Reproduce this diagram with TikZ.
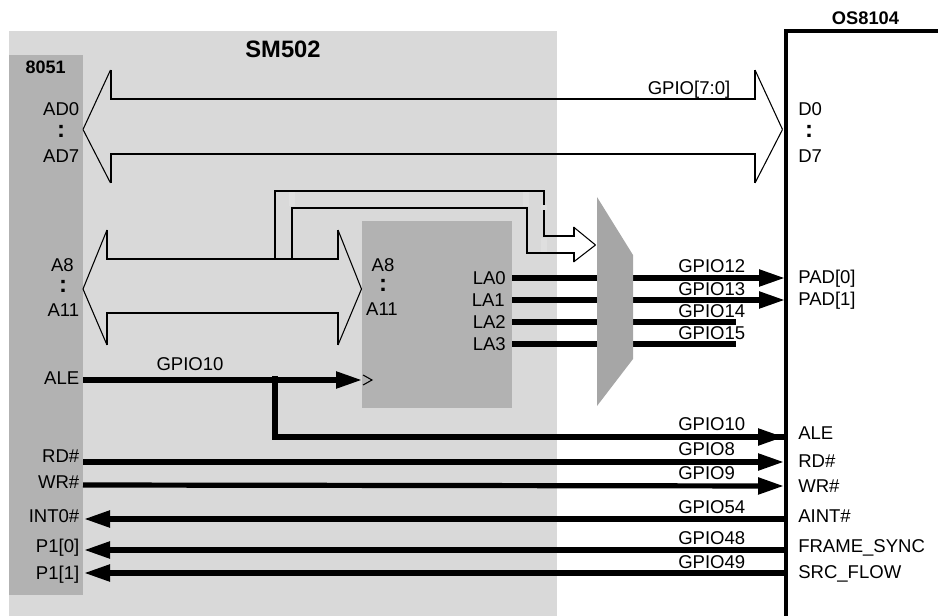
\documentclass[tikz,border=0pt]{standalone}
\usepackage{fontspec}
\setmainfont{Liberation Sans}
\usepackage{tkz-euclide}
\usetikzlibrary{arrows.meta,calc}
\definecolor{BlockClr}{HTML}{D9D9D9}
\definecolor{ChipClr}{HTML}{B2B2B2}
\definecolor{MuxClr}{HTML}{A6A6A6}
\definecolor{PatchClr}{HTML}{DFDFDF}
\tikzset{
  sigline/.style={line width=3.9pt,color=black,line cap=butt},
  sigarrow/.style={sigline,-{Triangle[length=19.5pt,width=12pt]}},
  busline/.style={line width=1.5pt,color=black,line join=miter,line cap=butt},
  busedge/.style={line width=.8pt,color=black,line cap=butt},
  txt/.style={inner sep=0pt,text height=10pt,text depth=0pt,font=\fontsize{13.9}{14}\selectfont},
  txtl/.style={txt,anchor=west},
  txtr/.style={txt,anchor=east},
  dots/.style={txt,text height=9.3pt,font=\fontsize{18}{18}\selectfont\bfseries},
}

\begin{document}
\begin{tikzpicture}[x=.75pt,y=-.75pt]
\useasboundingbox (0,0) rectangle (938,616);

\fill[BlockClr] (9,31) rectangle (557,616);
\fill[ChipClr] (9,55) rectangle (83,595);
\fill[ChipClr] (362,221) rectangle (512,408);

\tkzDefPoints{83/129.5/Ba,110.5/70/Bb,110.5/99.5/Bc,755/99.5/Bd,755/70/Be,782.5/129.5/Bf,755/183/Bg,755/154/Bh,110.5/154/Bi,110.5/183/Bj}
\tkzDefPoints{83/289/Ca,107/230/Cb,107/259.5/Cc,338/259.5/Cd,338/230/Ce,361.5/289/Cf,338/345/Cg,338/313/Ch,107/313/Ci,107/345/Cj}
\tkzDefPoints{275/259.5/Da,275/191/Db,544/191/Dc,544/236/Dd,573.5/236/De,573.5/227/Df,595.5/245/Dg,573.5/262/Dh,573.5/253/Di,526.5/253/Dj,526.5/208/Dk,292/208/Dl,292/259.5/Dm}

% hollow buses
\tkzDrawPolySeg[busline](Bb,Bc,Bd,Be)
\tkzDrawPolySeg[busline](Bg,Bh,Bi,Bj)
\tkzDrawSegments[busedge](Ba,Bb Ba,Bj Bf,Be Bf,Bg)
\tkzDrawPolySeg[busline](Cb,Cc,Cd,Ce)
\tkzDrawPolySeg[busline](Cg,Ch,Ci,Cj)
\tkzDrawSegments[busedge](Ca,Cb Ca,Cj Cf,Ce Cf,Cg)
\tkzDrawPolySeg[busline](Da,Db,Dc,Dd,De,Df)
\tkzDrawPolySeg[busline](Dh,Di,Dj,Dk,Dl,Dm)
\tkzDrawSegments[busline](Da,Dm)
\tkzDrawSegments[busedge](Df,Dg Dg,Dh)
\fill[PatchClr] (289,192.5) rectangle (295,206);
\fill[PatchClr] (523,192.5) rectangle (529,206);
\fill[PatchClr] (541,205) rectangle (547,210);
\fill[PatchClr] (541,238) rectangle (547,252);

\tkzDefPoints{83/380/Ea,362/380/Eb,275/376/Ec,275/437/Ed,784/437/Ee,512/278/Fa,785/278/Fb,512/300/Ga,785/300/Gb,512/322/Ha,736/322/Hb,512/344/Ia,736/344/Ib}
\tkzDefPoints{83/462/Ja,784/462/Jb,83/485/Ka,784/486/Kb,785/519/La,84/519/Lb,785/550/Ma,84/550/Mb,785/573/Na,84/573/Nb}

% signals
\tkzDrawSegments[sigarrow](Ea,Eb Fa,Fb Ga,Gb Ed,Ee Ja,Jb Ka,Kb La,Lb Ma,Mb Na,Nb)
\tkzDrawSegments[sigline](Ha,Hb Ia,Ib)
\tkzDrawPolySeg[sigline,line join=miter](Ec,Ed,Ee)
\draw[busedge,line join=miter] (363,375) -- (372,380) -- (363,385);

% mux
\fill[MuxClr] (597,197) -- (633,255) -- (633,359) -- (597,406) -- cycle;

% OS8104 edge
\draw[line width=2.4pt,line join=miter] (786,616) -- (786,31) -- (938,31);

\node[txt,text height=12.8pt,font=\fontsize{17.8}{18}\bfseries,anchor=center] (smname) at (283,49) {SM502};
\node[txt,font=\fontsize{13.5}{14}\bfseries,anchor=center] (cpuname) at (45.7,66.7) {8051};
\node[txt,font=\fontsize{13.7}{14}\bfseries,anchor=center] (osname) at (865.5,18) {OS8104};

\node[txtr] (adzero) at (79.5,109) {AD0};
\node[dots] (addots) at (61,131) {:};
\node[txtr] (adseven) at (79.5,156) {AD7};
\node[txtr] (aeight) at (74,265) {A8};
\node[dots] (adotsl) at (63,286) {:};
\node[txtr] (aeleven) at (79.5,310) {A11};
\node[txtr] (ale) at (79.5,378) {ALE};
\node[txtr] (rd) at (79.5,456) {RD\#};
\node[txtr] (wr) at (79.5,482) {WR\#};
\node[txtr] (intz) at (79.5,516) {INT0\#};
\node[txtr] (pzero) at (79.5,546) {P1[0]};
\node[txtr] (pone) at (79.5,573) {P1[1]};

\node[txt] (aeightb) at (383,265) {A8};
\node[dots] (adotsb) at (383,285) {:};
\node[txt] (aelevenb) at (382,309) {A11};
\node[txtr] (lazero) at (506,278) {LA0};
\node[txtr] (laone) at (505,300) {LA1};
\node[txtr] (latwo) at (506,322) {LA2};
\node[txtr] (lathree) at (506,344) {LA3};

\node[txt] (gpbus) at (689,88) {GPIO[7:0]};
\node[txt] (gpale) at (190,364) {GPIO10};
\node[txtl] (gpa) at (678,266) {GPIO12};
\node[txtl] (gpb) at (678,289) {GPIO13};
\node[txtl] (gpc) at (678,311) {GPIO14};
\node[txtl] (gpd) at (678,333) {GPIO15};
\node[txtl] (gpe) at (678,424) {GPIO10};
\node[txtl] (gpf) at (678,449) {GPIO8};
\node[txtl] (gpg) at (678,473) {GPIO9};
\node[txtl] (gph) at (678,507) {GPIO54};
\node[txtl] (gpi) at (678,538) {GPIO48};
\node[txtl] (gpj) at (678,562) {GPIO49};

\node[txtl] (dzero) at (798,109) {D0};
\node[dots] (ddots) at (809,131) {:};
\node[txtl] (dseven) at (798,156) {D7};
\node[txtl] (padz) at (798,277) {PAD[0]};
\node[txtl] (pado) at (798,299) {PAD[1]};
\node[txtl] (osale) at (798,433) {ALE};
\node[txtl] (osrd) at (798,461) {RD\#};
\node[txtl] (oswr) at (798,486) {WR\#};
\node[txtl] (aint) at (798,516) {AINT\#};
\node[txtl] (fsync) at (798,546) {FRAME\_SYNC};
\node[txtl] (srcf) at (798,572) {SRC\_FLOW};

\end{tikzpicture}
\end{document}
